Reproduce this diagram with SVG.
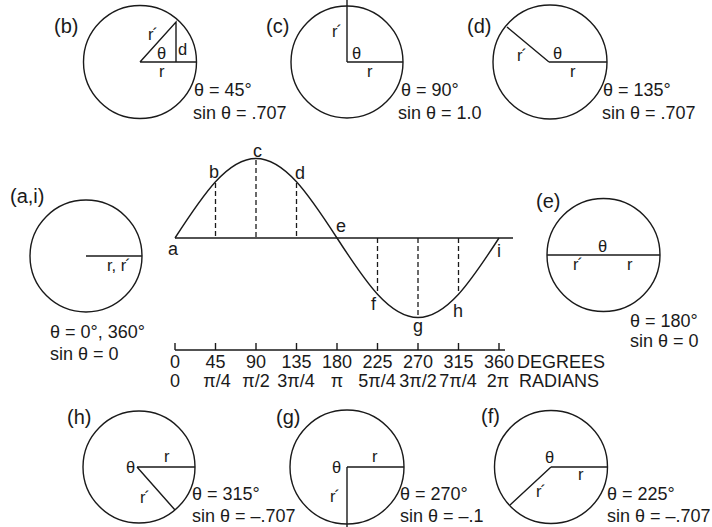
<svg xmlns="http://www.w3.org/2000/svg" width="712" height="527" viewBox="0 0 712 527">
<style>
text{font-family:"Liberation Sans",Arial,sans-serif;font-size:18px;fill:#1a1a1a}
.m{text-anchor:middle}
.p{font-size:20px}
.s{font-size:16.5px}
.c{fill:none;stroke:#1a1a1a;stroke-width:1.4}
.l{stroke:#1a1a1a;stroke-width:1.4;fill:none}
.d{stroke:#1a1a1a;stroke-width:1.3;stroke-dasharray:5 3;fill:none}
</style>
<rect width="712" height="527" fill="#fff"/>

<g id="node-b">
<circle class="c" cx="140" cy="62" r="56.5"/>
<path class="l" d="M140 62H196.5M140 62L176 22V62"/>
<text class="p" x="54" y="33">(b)</text>
<text class="s" x="148" y="40">r<tspan dx="-1">´</tspan></text>
<text class="s" x="157" y="59">θ</text>
<text class="s" x="178" y="55">d</text>
<text class="s" x="159" y="77">r</text>
<text x="194" y="96">θ = 45°</text>
<text x="193" y="119">sin θ = .707</text>
</g>

<g id="node-c">
<circle class="c" cx="347" cy="62" r="56"/>
<path class="l" d="M347 62H403M347 62V0"/>
<text class="p" x="266" y="33">(c)</text>
<text class="s" x="332" y="37">r<tspan dx="-1">´</tspan></text>
<text class="s" x="352" y="59">θ</text>
<text class="s" x="367" y="77">r</text>
<text x="401" y="96">θ = 90°</text>
<text x="398" y="119">sin θ = 1.0</text>
</g>

<g id="node-d">
<circle class="c" cx="550" cy="62" r="57"/>
<path class="l" d="M549 62H607M549 62L507 27"/>
<text class="p" x="467" y="33">(d)</text>
<text class="s" x="517" y="61">r<tspan dx="-1">´</tspan></text>
<text class="s" x="553" y="59">θ</text>
<text class="s" x="570" y="77">r</text>
<text x="603" y="96">θ = 135°</text>
<text x="602" y="119">sin θ = .707</text>
</g>

<g id="node-ai">
<circle class="c" cx="86" cy="256" r="56"/>
<path class="l" d="M86 256H142"/>
<text class="p" x="10" y="203">(a,i)</text>
<text class="s" x="107" y="271">r, r<tspan dx="-1">´</tspan></text>
<text x="50" y="338">θ = 0°, 360°</text>
<text x="50" y="360">sin θ = 0</text>
</g>

<g id="node-e">
<circle class="c" cx="603.5" cy="255" r="56.5"/>
<path class="l" d="M547 255H660"/>
<text class="p" x="536" y="208">(e)</text>
<text class="s" x="598" y="252">θ</text>
<text class="s" x="573" y="270">r<tspan dx="-1">´</tspan></text>
<text class="s" x="627" y="270">r</text>
<text x="630" y="327">θ = 180°</text>
<text x="630" y="347">sin θ = 0</text>
</g>

<g id="node-h">
<circle class="c" cx="139" cy="467" r="56"/>
<path class="l" d="M137 467H195M137 467L175 510"/>
<text class="p" x="67" y="424">(h)</text>
<text class="s" x="126" y="473">θ</text>
<text class="s" x="164" y="462">r</text>
<text class="s" x="140" y="503">r<tspan dx="-1">´</tspan></text>
<text x="192" y="500">θ = 315°</text>
<text x="192" y="522">sin θ = –.707</text>
</g>

<g id="node-g">
<circle class="c" cx="347" cy="467" r="57"/>
<path class="l" d="M347 467H404M347 467V527"/>
<text class="p" x="276" y="424">(g)</text>
<text class="s" x="332" y="473">θ</text>
<text class="s" x="372" y="462">r</text>
<text class="s" x="330" y="502">r<tspan dx="-1">´</tspan></text>
<text x="400" y="500">θ = 270°</text>
<text x="400" y="522">sin θ = –.1</text>
</g>

<g id="node-f">
<circle class="c" cx="551" cy="467" r="56.5"/>
<path class="l" d="M551 467H607.5M551 467L510 505"/>
<text class="p" x="481" y="423">(f)</text>
<text class="s" x="545" y="463">θ</text>
<text class="s" x="578" y="480">r</text>
<text class="s" x="536" y="497">r<tspan dx="-1">´</tspan></text>
<text x="607" y="500">θ = 225°</text>
<text x="607" y="522">sin θ = –.707</text>
</g>

<g id="connectors">
<path class="l" d="M175 238H513"/>
<path class="l" d="M175 238C188.5 217.19 202 196.5 215.5 181.78C229 167.06 242.5 158.5 256 158.5C269.5 158.5 283 167.06 296.5 181.78C310 196.5 323.5 217.19 337 238C350.5 258.81 364 279.5 377.5 294.22C391 308.94 404.5 317.5 418 317.5C431.5 317.5 445 308.94 458.5 294.22C472 279.5 485.5 258.81 499 238"/>
<path class="d" d="M215.5 183V238M256 160V238M296.5 183V238M377.5 238V293M418 238V316M458.5 238V293"/>
<text x="168" y="255">a</text>
<text x="209" y="178">b</text>
<text x="253" y="157">c</text>
<text x="295" y="179">d</text>
<text x="336" y="232">e</text>
<text x="371" y="310">f</text>
<text x="413" y="332">g</text>
<text x="453" y="317">h</text>
<text x="497" y="257">i</text>
</g>

<g id="axis">
<path class="l" d="M175 350H505M175 343V350M215.5 343V350M256 343V350M296.5 343V350M337 343V350M377.5 343V350M418 343V350M458.5 343V350M499 343V350"/>
<text class="m" x="175" y="368">0</text>
<text class="m" x="215.5" y="368">45</text>
<text class="m" x="256" y="368">90</text>
<text class="m" x="296.5" y="368">135</text>
<text class="m" x="337" y="368">180</text>
<text class="m" x="377.5" y="368">225</text>
<text class="m" x="418" y="368">270</text>
<text class="m" x="458.5" y="368">315</text>
<text class="m" x="499" y="368">360</text>
<text x="517" y="368">DEGREES</text>
<text class="m" x="175" y="387">0</text>
<text class="m" x="217" y="387">π/4</text>
<text class="m" x="256" y="387">π/2</text>
<text class="m" x="296" y="387">3π/4</text>
<text class="m" x="337" y="387">π</text>
<text class="m" x="377" y="387">5π/4</text>
<text class="m" x="418" y="387">3π/2</text>
<text class="m" x="458" y="387">7π/4</text>
<text class="m" x="498" y="387">2π</text>
<text x="519" y="387">RADIANS</text>
</g>
</svg>
